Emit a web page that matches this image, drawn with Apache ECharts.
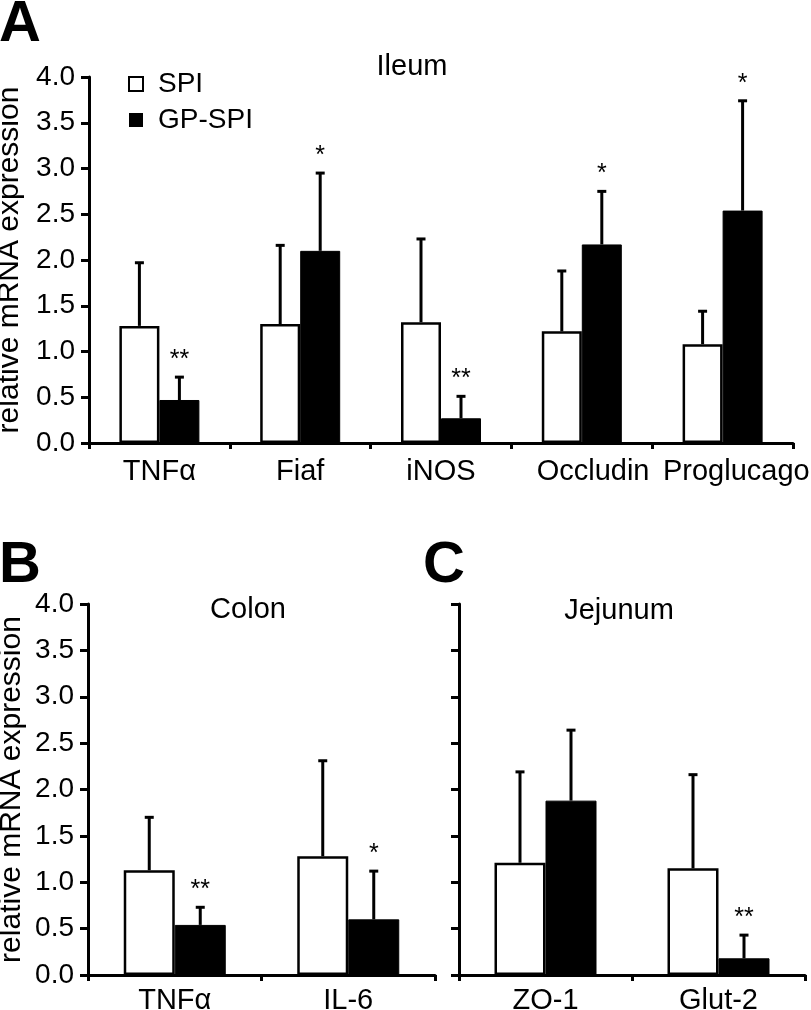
<!DOCTYPE html>
<html>
<head>
<meta charset="utf-8">
<script src="https://cdn.jsdelivr.net/npm/echarts@6/dist/echarts.min.js"></script>
<style>
  html, body { margin: 0; padding: 0; background: #fff; }
  #chart { width: 811px; height: 1010px; }
</style>
</head>
<body>
<div id="chart"></div>
<script>
// ---- Data ----
const seriesNames = ['SPI', 'GP-SPI'];

// Panel A: Ileum
const ileumCats = ['TNFα', 'Fiaf', 'iNOS', 'Occludin', 'Proglucagon'];
const ileumSPI = [1.28, 1.30, 1.32, 1.22, 1.08];
const ileumSPIErr = [0.69, 0.86, 0.91, 0.66, 0.36];
const ileumGP = [0.47, 2.10, 0.27, 2.17, 2.54];
const ileumGPErr = [0.25, 0.85, 0.24, 0.58, 1.20];
const ileumSig = ['**', '*', '**', '*', '*'];

// Panel B: Colon
const colonCats = ['TNFα', 'IL-6'];
const colonSPI = [1.13, 1.28];
const colonSPIErr = [0.57, 1.03];
const colonGP = [0.54, 0.60];
const colonGPErr = [0.19, 0.52];
const colonSig = ['**', '*'];

// Panel C: Jejunum
const jejCats = ['ZO-1', 'Glut-2'];
const jejSPI = [1.21, 1.15];
const jejSPIErr = [0.98, 1.01];
const jejGP = [1.88, 0.18];
const jejGPErr = [0.76, 0.25];
const jejSig = ['', '**'];

const yMin = 0, yMax = 4, yInterval = 0.5;
const yName = 'relative mRNA expression';
const panelTitles = ['Ileum', 'Colon', 'Jejunum'];
const panelLetters = ['A', 'B', 'C'];

// ---- Styling ----
const FONT = '"Liberation Sans", Arial, Helvetica, sans-serif';
const BLACK = '#000';
const CAT_FS = 29;

function yAxis(gi, showLabels) {
  return {
    type: 'value', gridIndex: gi, min: yMin, max: yMax, interval: yInterval,
    axisLine: { show: true, lineStyle: { color: BLACK, width: 3 } },
    axisTick: { show: true, length: 8, lineStyle: { color: BLACK, width: 3 } },
    splitLine: { show: false },
    axisLabel: {
      show: showLabels, margin: 14, color: BLACK, fontSize: 28, fontFamily: FONT,
      formatter: v => v.toFixed(1)
    },
    name: showLabels ? yName : '',
    nameLocation: 'middle', nameRotate: 90, nameGap: 61,
    nameTextStyle: { color: BLACK, fontSize: 30, fontFamily: FONT }
  };
}

function xAxis(gi, cats, margin, formatter) {
  const lab = { interval: 0, margin: margin, color: BLACK, fontSize: CAT_FS, fontFamily: FONT, hideOverlap: false };
  if (formatter) { lab.formatter = formatter; }
  return {
    type: 'category', gridIndex: gi, data: cats,
    axisLine: { show: true, lineStyle: { color: BLACK, width: 3 } },
    axisTick: { show: true, length: 6, lineStyle: { color: BLACK, width: 3 } },
    axisLabel: lab,
    splitLine: { show: false }
  };
}

function bars(gi, name, data, bw, white) {
  return {
    type: 'bar', name: name, xAxisIndex: gi, yAxisIndex: gi, data: data,
    barWidth: bw, barGap: '0%',
    itemStyle: white
      ? { color: '#fff', borderColor: BLACK, borderWidth: 2.5 }
      : { color: BLACK, borderColor: BLACK, borderWidth: 1 },
    emphasis: { disabled: true }
  };
}

function errBars(gi, means, errs, sigs, side, bw) {
  return {
    type: 'custom', name: 'err' + gi + side, xAxisIndex: gi, yAxisIndex: gi, z: 5,
    data: means.map((m, i) => [i, m, errs[i]]),
    renderItem: function (params, api) {
      const idx = params.dataIndex;
      const c = api.coord([api.value(0), api.value(1)]);
      const t = api.coord([api.value(0), api.value(1) + api.value(2)]);
      const x = c[0] + side * bw / 2;
      const children = [
        { type: 'line', shape: { x1: x, y1: c[1], x2: x, y2: t[1] },
          style: { stroke: BLACK, lineWidth: 3 } },
        { type: 'line', shape: { x1: x - 4.5, y1: t[1], x2: x + 4.5, y2: t[1] },
          style: { stroke: BLACK, lineWidth: 3 } }
      ];
      const s = sigs ? sigs[idx] : '';
      if (s) {
        children.push({
          type: 'text', x: x, y: t[1] - 17,
          style: { text: s, fill: BLACK, fontSize: 25, fontFamily: FONT,
                   align: 'center', verticalAlign: 'middle' }
        });
      }
      return { type: 'group', children: children };
    }
  };
}

// leading spaces nudge the two crowded right-hand labels to the right, as in the figure
const ileumFormatter = v => v === 'Occludin' ? '\u2002\u00a0' + v
  : (v === 'Proglucagon' ? '\u2002\u2002\u2002' + v : v);

const option = {
  animation: false,
  backgroundColor: '#fff',
  grid: [
    { left: 89, top: 77, width: 704, height: 366, outerBoundsMode: 'none', containLabel: false },
    { left: 88, top: 604, width: 347, height: 371, outerBoundsMode: 'none', containLabel: false },
    { left: 459, top: 604, width: 346, height: 371, outerBoundsMode: 'none', containLabel: false }
  ],
  xAxis: [
    xAxis(0, ileumCats, 14, ileumFormatter),
    xAxis(1, colonCats, 11),
    xAxis(2, jejCats, 11)
  ],
  yAxis: [yAxis(0, true), yAxis(1, true), yAxis(2, false)],
  legend: {
    orient: 'vertical', left: 128, top: 70, padding: 0,
    icon: 'rect', itemWidth: 14, itemHeight: 14, itemGap: 8,
    selectedMode: false,
    textStyle: { color: BLACK, fontSize: 28, fontFamily: FONT, padding: [0, 0, 0, 10] },
    data: [
      { name: seriesNames[0], itemStyle: { color: '#fff', borderColor: BLACK, borderWidth: 2 } },
      { name: seriesNames[1], itemStyle: { color: BLACK, borderColor: BLACK, borderWidth: 0 } }
    ]
  },
  graphic: [
    { type: 'text', x: 412, y: 67, style: { text: panelTitles[0], fill: BLACK, fontSize: 29, fontFamily: FONT, align: 'center', verticalAlign: 'middle' } },
    { type: 'text', x: 248, y: 610, style: { text: panelTitles[1], fill: BLACK, fontSize: 29, fontFamily: FONT, align: 'center', verticalAlign: 'middle' } },
    { type: 'text', x: 619, y: 611, style: { text: panelTitles[2], fill: BLACK, fontSize: 29, fontFamily: FONT, align: 'center', verticalAlign: 'middle' } },
    { type: 'text', x: -1, y: 25, style: { text: panelLetters[0], fill: BLACK, fontSize: 58, fontWeight: 'bold', fontFamily: FONT, align: 'left', verticalAlign: 'middle' } },
    { type: 'text', x: -1, y: 566, style: { text: panelLetters[1], fill: BLACK, fontSize: 58, fontWeight: 'bold', fontFamily: FONT, align: 'left', verticalAlign: 'middle' } },
    { type: 'text', x: 423, y: 566, style: { text: panelLetters[2], fill: BLACK, fontSize: 58, fontWeight: 'bold', fontFamily: FONT, align: 'left', verticalAlign: 'middle' } }
  ],
  series: [
    bars(0, seriesNames[0], ileumSPI, 40, true),
    bars(0, seriesNames[1], ileumGP, 40, false),
    errBars(0, ileumSPI, ileumSPIErr, null, -1, 40),
    errBars(0, ileumGP, ileumGPErr, ileumSig, 1, 40),
    bars(1, seriesNames[0], colonSPI, 51, true),
    bars(1, seriesNames[1], colonGP, 51, false),
    errBars(1, colonSPI, colonSPIErr, null, -1, 51),
    errBars(1, colonGP, colonGPErr, colonSig, 1, 51),
    bars(2, seriesNames[0], jejSPI, 51, true),
    bars(2, seriesNames[1], jejGP, 51, false),
    errBars(2, jejSPI, jejSPIErr, null, -1, 51),
    errBars(2, jejGP, jejGPErr, jejSig, 1, 51)
  ]
};

const chart = echarts.init(document.getElementById('chart'), null, { renderer: 'canvas' });
chart.setOption(option);
</script>
</body>
</html>
